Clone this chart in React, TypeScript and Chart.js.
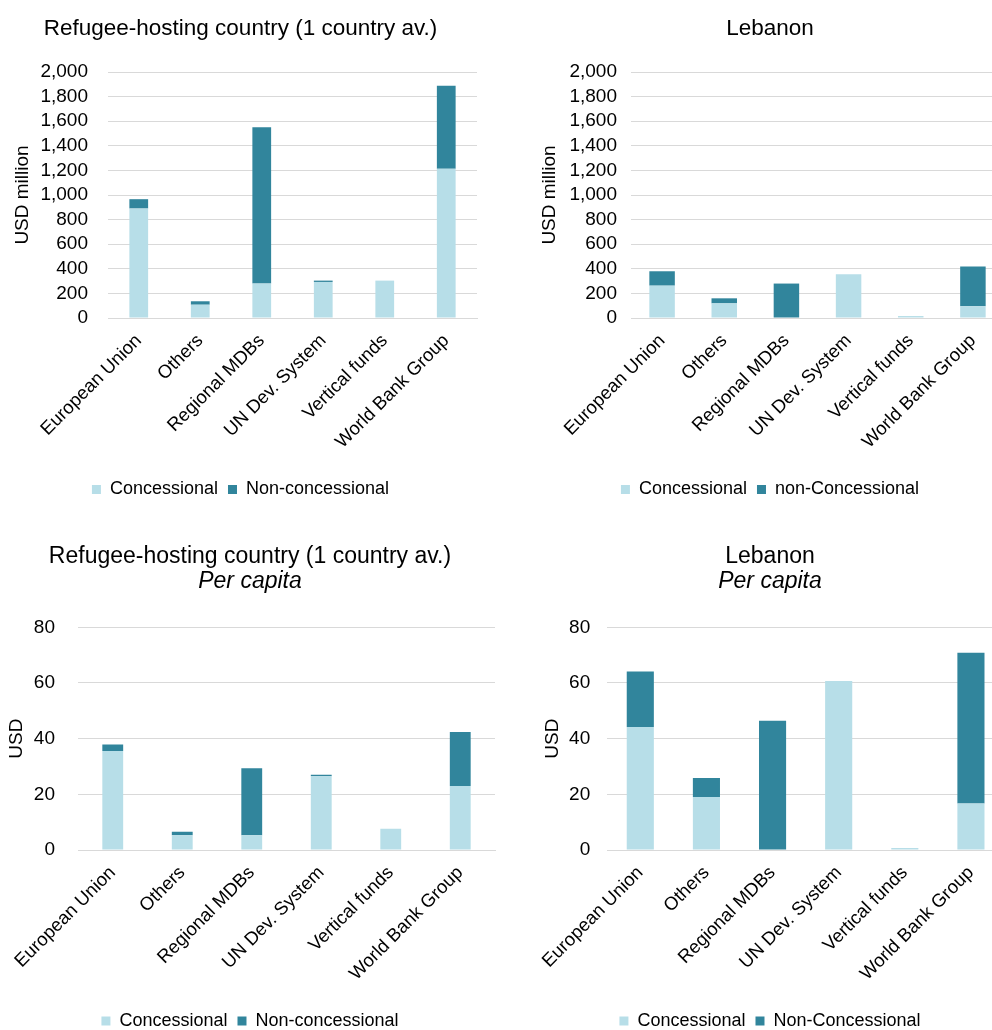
import React, { useEffect, useRef } from 'react';
import { Chart, registerables } from 'chart.js';

Chart.register(...registerables);

// ---------- data ----------
const categories = [
  'European Union',
  'Others',
  'Regional MDBs',
  'UN Dev. System',
  'Vertical funds',
  'World Bank Group',
];

// Refugee-hosting country (1 country av.), USD million
const hostConcessional = [890, 108, 280, 293, 304, 1213];
const hostNonConcessional = [76, 28, 1270, 11, 0, 676];

// Lebanon, USD million
const lebConcessional = [263, 119, 0, 355, 16, 95];
const lebNonConcessional = [117, 41, 280, 0, 0, 323];

// Refugee-hosting country, per capita USD
const hostPcConcessional = [35.6, 5.3, 5.3, 26.5, 7.6, 23.0];
const hostPcNonConcessional = [2.3, 1.3, 24.1, 0.5, 0, 19.4];

// Lebanon, per capita USD
const lebPcConcessional = [44.2, 19.0, 0.2, 60.7, 0.7, 16.7];
const lebPcNonConcessional = [19.9, 6.9, 46.2, 0, 0, 54.2];

const millionTicks = { min: 0, max: 2000, step: 200 };
const perCapitaTicks = { min: 0, max: 80, step: 20 };

// ---------- style ----------
const FONT = "'Liberation Sans', Arial, Helvetica, sans-serif";
const LIGHT = '#b7dee8';
const DARK = '#31859c';
const GRID = '#d9d9d9';

type Spec = {
  left: number;
  top: number;
  w: number;
  h: number;
  title: string;
  titleSize: number;
  titleLH: number;
  subtitle?: string;
  legend: [string, string];
  conc: number[];
  non: number[];
  ticks: { min: number; max: number; step: number };
  yTitle: string;
  bar: number;
  padL: number;
  padR: number;
  padB: number;
  titleTop: number;
  titleBottom: number;
  subBottom?: number;
  yw: number;
  tickPad: number;
  yTitlePad: number;
  xh: number;
};

function buildConfig(p: Spec): any {
  return {
    type: 'bar',
    data: {
      labels: categories,
      datasets: [
        {
          label: p.legend[0],
          data: p.conc,
          backgroundColor: LIGHT,
          barPercentage: p.bar,
          categoryPercentage: 1,
        },
        {
          label: p.legend[1],
          data: p.non,
          backgroundColor: DARK,
          barPercentage: p.bar,
          categoryPercentage: 1,
        },
      ],
    },
    options: {
      responsive: false,
      animation: false,
      devicePixelRatio: 1,
      layout: { padding: { left: p.padL, right: p.padR, top: 0, bottom: p.padB } },
      plugins: {
        title: {
          display: true,
          text: p.title,
          color: '#000',
          font: { family: FONT, size: p.titleSize, weight: 'normal', lineHeight: p.titleLH },
          padding: { top: p.titleTop, bottom: p.titleBottom },
        },
        subtitle: p.subtitle
          ? {
              display: true,
              text: p.subtitle,
              color: '#000',
              font: {
                family: FONT,
                size: p.titleSize,
                style: 'italic',
                weight: 'normal',
                lineHeight: p.titleLH,
              },
              padding: { top: 0, bottom: p.subBottom },
            }
          : { display: false },
        legend: {
          position: 'bottom',
          labels: {
            boxWidth: 9,
            boxHeight: 9,
            color: '#000',
            font: { family: FONT, size: 18 },
            padding: 10,
          },
        },
        tooltip: { enabled: false },
      },
      scales: {
        x: {
          stacked: true,
          grid: { display: false },
          border: { color: GRID, width: 1 },
          ticks: {
            color: '#000',
            font: { family: FONT, size: 18.5 },
            maxRotation: 45,
            minRotation: 45,
            autoSkip: false,
            padding: 4,
          },
          afterFit: (s: any) => {
            s.height = p.xh;
          },
        },
        y: {
          stacked: true,
          min: p.ticks.min,
          max: p.ticks.max,
          ticks: {
            stepSize: p.ticks.step,
            autoSkip: false,
            color: '#000',
            font: { family: FONT, size: 19 },
            padding: p.tickPad,
          },
          grid: { color: GRID, lineWidth: 1, drawTicks: false },
          border: { display: false },
          title: {
            display: true,
            text: p.yTitle,
            color: '#000',
            font: { family: FONT, size: 19 },
            padding: { top: p.yTitlePad, bottom: 0 },
          },
          afterFit: (s: any) => {
            s.width = p.yw;
          },
        },
      },
    },
  };
}

const specs: Spec[] = [
  {
    left: 0, top: 0, w: 481, h: 510,
    title: 'Refugee-hosting country (1 country av.)', titleSize: 22.5, titleLH: 1.2,
    legend: ['Concessional', 'Non-concessional'],
    conc: hostConcessional, non: hostNonConcessional,
    ticks: millionTicks, yTitle: 'USD million', bar: 0.305,
    padL: 4, padR: 4, padB: 1.5, titleTop: 15.5, titleBottom: 29.5,
    yw: 104, tickPad: 20, yTitlePad: 7, xh: 152.5,
  },
  {
    left: 536, top: 0, w: 468, h: 510,
    title: 'Lebanon', titleSize: 22.5, titleLH: 1.2,
    legend: ['Concessional', 'non-Concessional'],
    conc: lebConcessional, non: lebNonConcessional,
    ticks: millionTicks, yTitle: 'USD million', bar: 0.41,
    padL: 0, padR: 0, padB: 1.5, titleTop: 15.5, titleBottom: 29.5,
    yw: 95, tickPad: 14, yTitlePad: 2, xh: 152.5,
  },
  {
    left: 0, top: 535, w: 500, h: 505,
    title: 'Refugee-hosting country (1 country av.)', titleSize: 23, titleLH: 1.05,
    subtitle: 'Per capita',
    legend: ['Concessional', 'Non-concessional'],
    conc: hostPcConcessional, non: hostPcNonConcessional,
    ticks: perCapitaTicks, yTitle: 'USD', bar: 0.3,
    padL: 5, padR: 5, padB: 0, titleTop: 10, titleBottom: 0, subBottom: 34,
    yw: 73, tickPad: 23, yTitlePad: 0, xh: 152,
  },
  {
    left: 536, top: 535, w: 468, h: 505,
    title: 'Lebanon', titleSize: 23, titleLH: 1.05,
    subtitle: 'Per capita',
    legend: ['Concessional', 'Non-Concessional'],
    conc: lebPcConcessional, non: lebPcNonConcessional,
    ticks: perCapitaTicks, yTitle: 'USD', bar: 0.41,
    padL: 0, padR: 0, padB: 0, titleTop: 10, titleBottom: 0, subBottom: 34,
    yw: 69, tickPad: 17, yTitlePad: 3, xh: 152,
  },
];

function Panel({ spec }: { spec: Spec }) {
  const ref = useRef<HTMLCanvasElement>(null);
  useEffect(() => {
    if (!ref.current) return;
    const chart = new Chart(ref.current, buildConfig(spec));
    return () => chart.destroy();
  }, [spec]);
  return (
    <canvas
      ref={ref}
      width={spec.w}
      height={spec.h}
      style={{ position: 'absolute', left: spec.left, top: spec.top, width: spec.w, height: spec.h }}
    />
  );
}

export default function App() {
  return (
    <div
      style={{
        position: 'absolute',
        left: 0,
        top: 0,
        width: 992,
        height: 1030,
        overflow: 'hidden',
        background: '#fff',
      }}
    >
      {specs.map((s, i) => (
        <Panel key={i} spec={s} />
      ))}
    </div>
  );
}
